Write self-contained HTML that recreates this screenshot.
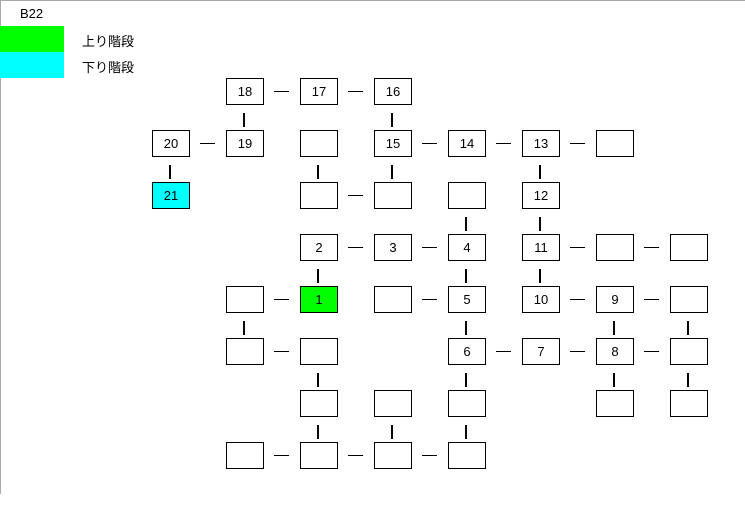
<!DOCTYPE html>
<html><head><meta charset="utf-8"><style>
body{margin:0;width:745px;height:509px;background:#fff;position:relative;overflow:hidden;font-family:"Liberation Sans","Noto Sans CJK JP",sans-serif;}
.b{position:absolute;width:38px;height:27px;box-sizing:border-box;border:1px solid #000;background:#fff;font-size:13px;line-height:25px;text-align:center;color:#000}
.h{position:absolute;width:15px;height:1px;background:#000}
.v{position:absolute;width:2px;height:14px;background:#000}
.t{position:absolute;font-size:13px;color:#000}
</style></head><body>
<div style="position:absolute;left:0;top:0;width:745px;height:1px;background:#aaa"></div>
<div style="position:absolute;left:0;top:0;width:1px;height:494px;background:#aaa"></div>
<div class="t" style="left:20px;top:6px">B22</div>
<div style="position:absolute;left:0;top:26px;width:64px;height:26px;background:#00ff00"></div>
<div style="position:absolute;left:0;top:52px;width:64px;height:26px;background:#00ffff"></div>
<div class="t" style="left:82px;top:31px">上り階段</div>
<div class="t" style="left:82px;top:57px">下り階段</div>

<div class="b" style="left:226px;top:78px">18</div>
<div class="b" style="left:300px;top:78px">17</div>
<div class="b" style="left:374px;top:78px">16</div>
<div class="h" style="left:274px;top:91px"></div>
<div class="h" style="left:348px;top:91px"></div>
<div class="v" style="left:243px;top:113px"></div>
<div class="v" style="left:391px;top:113px"></div>

<div class="b" style="left:152px;top:130px">20</div>
<div class="b" style="left:226px;top:130px">19</div>
<div class="b" style="left:300px;top:130px"></div>
<div class="b" style="left:374px;top:130px">15</div>
<div class="b" style="left:448px;top:130px">14</div>
<div class="b" style="left:522px;top:130px">13</div>
<div class="b" style="left:596px;top:130px"></div>
<div class="h" style="left:200px;top:143px"></div>
<div class="h" style="left:422px;top:143px"></div>
<div class="h" style="left:496px;top:143px"></div>
<div class="h" style="left:570px;top:143px"></div>
<div class="v" style="left:169px;top:165px"></div>
<div class="v" style="left:317px;top:165px"></div>
<div class="v" style="left:391px;top:165px"></div>
<div class="v" style="left:539px;top:165px"></div>

<div class="b" style="left:152px;top:182px;background:#00ffff">21</div>
<div class="b" style="left:300px;top:182px"></div>
<div class="b" style="left:374px;top:182px"></div>
<div class="b" style="left:448px;top:182px"></div>
<div class="b" style="left:522px;top:182px">12</div>
<div class="h" style="left:348px;top:195px"></div>
<div class="v" style="left:465px;top:217px"></div>
<div class="v" style="left:539px;top:217px"></div>

<div class="b" style="left:300px;top:234px">2</div>
<div class="b" style="left:374px;top:234px">3</div>
<div class="b" style="left:448px;top:234px">4</div>
<div class="b" style="left:522px;top:234px">11</div>
<div class="b" style="left:596px;top:234px"></div>
<div class="b" style="left:670px;top:234px"></div>
<div class="h" style="left:348px;top:247px"></div>
<div class="h" style="left:422px;top:247px"></div>
<div class="h" style="left:570px;top:247px"></div>
<div class="h" style="left:644px;top:247px"></div>
<div class="v" style="left:317px;top:269px"></div>
<div class="v" style="left:465px;top:269px"></div>
<div class="v" style="left:539px;top:269px"></div>

<div class="b" style="left:226px;top:286px"></div>
<div class="b" style="left:300px;top:286px;background:#00ff00">1</div>
<div class="b" style="left:374px;top:286px"></div>
<div class="b" style="left:448px;top:286px">5</div>
<div class="b" style="left:522px;top:286px">10</div>
<div class="b" style="left:596px;top:286px">9</div>
<div class="b" style="left:670px;top:286px"></div>
<div class="h" style="left:274px;top:299px"></div>
<div class="h" style="left:422px;top:299px"></div>
<div class="h" style="left:570px;top:299px"></div>
<div class="h" style="left:644px;top:299px"></div>
<div class="v" style="left:243px;top:321px"></div>
<div class="v" style="left:465px;top:321px"></div>
<div class="v" style="left:613px;top:321px"></div>
<div class="v" style="left:687px;top:321px"></div>

<div class="b" style="left:226px;top:338px"></div>
<div class="b" style="left:300px;top:338px"></div>
<div class="b" style="left:448px;top:338px">6</div>
<div class="b" style="left:522px;top:338px">7</div>
<div class="b" style="left:596px;top:338px">8</div>
<div class="b" style="left:670px;top:338px"></div>
<div class="h" style="left:274px;top:351px"></div>
<div class="h" style="left:496px;top:351px"></div>
<div class="h" style="left:570px;top:351px"></div>
<div class="h" style="left:644px;top:351px"></div>
<div class="v" style="left:317px;top:373px"></div>
<div class="v" style="left:465px;top:373px"></div>
<div class="v" style="left:613px;top:373px"></div>
<div class="v" style="left:687px;top:373px"></div>

<div class="b" style="left:300px;top:390px"></div>
<div class="b" style="left:374px;top:390px"></div>
<div class="b" style="left:448px;top:390px"></div>
<div class="b" style="left:596px;top:390px"></div>
<div class="b" style="left:670px;top:390px"></div>
<div class="v" style="left:317px;top:425px"></div>
<div class="v" style="left:391px;top:425px"></div>
<div class="v" style="left:465px;top:425px"></div>

<div class="b" style="left:226px;top:442px"></div>
<div class="b" style="left:300px;top:442px"></div>
<div class="b" style="left:374px;top:442px"></div>
<div class="b" style="left:448px;top:442px"></div>
<div class="h" style="left:274px;top:455px"></div>
<div class="h" style="left:348px;top:455px"></div>
<div class="h" style="left:422px;top:455px"></div>
</body></html>
